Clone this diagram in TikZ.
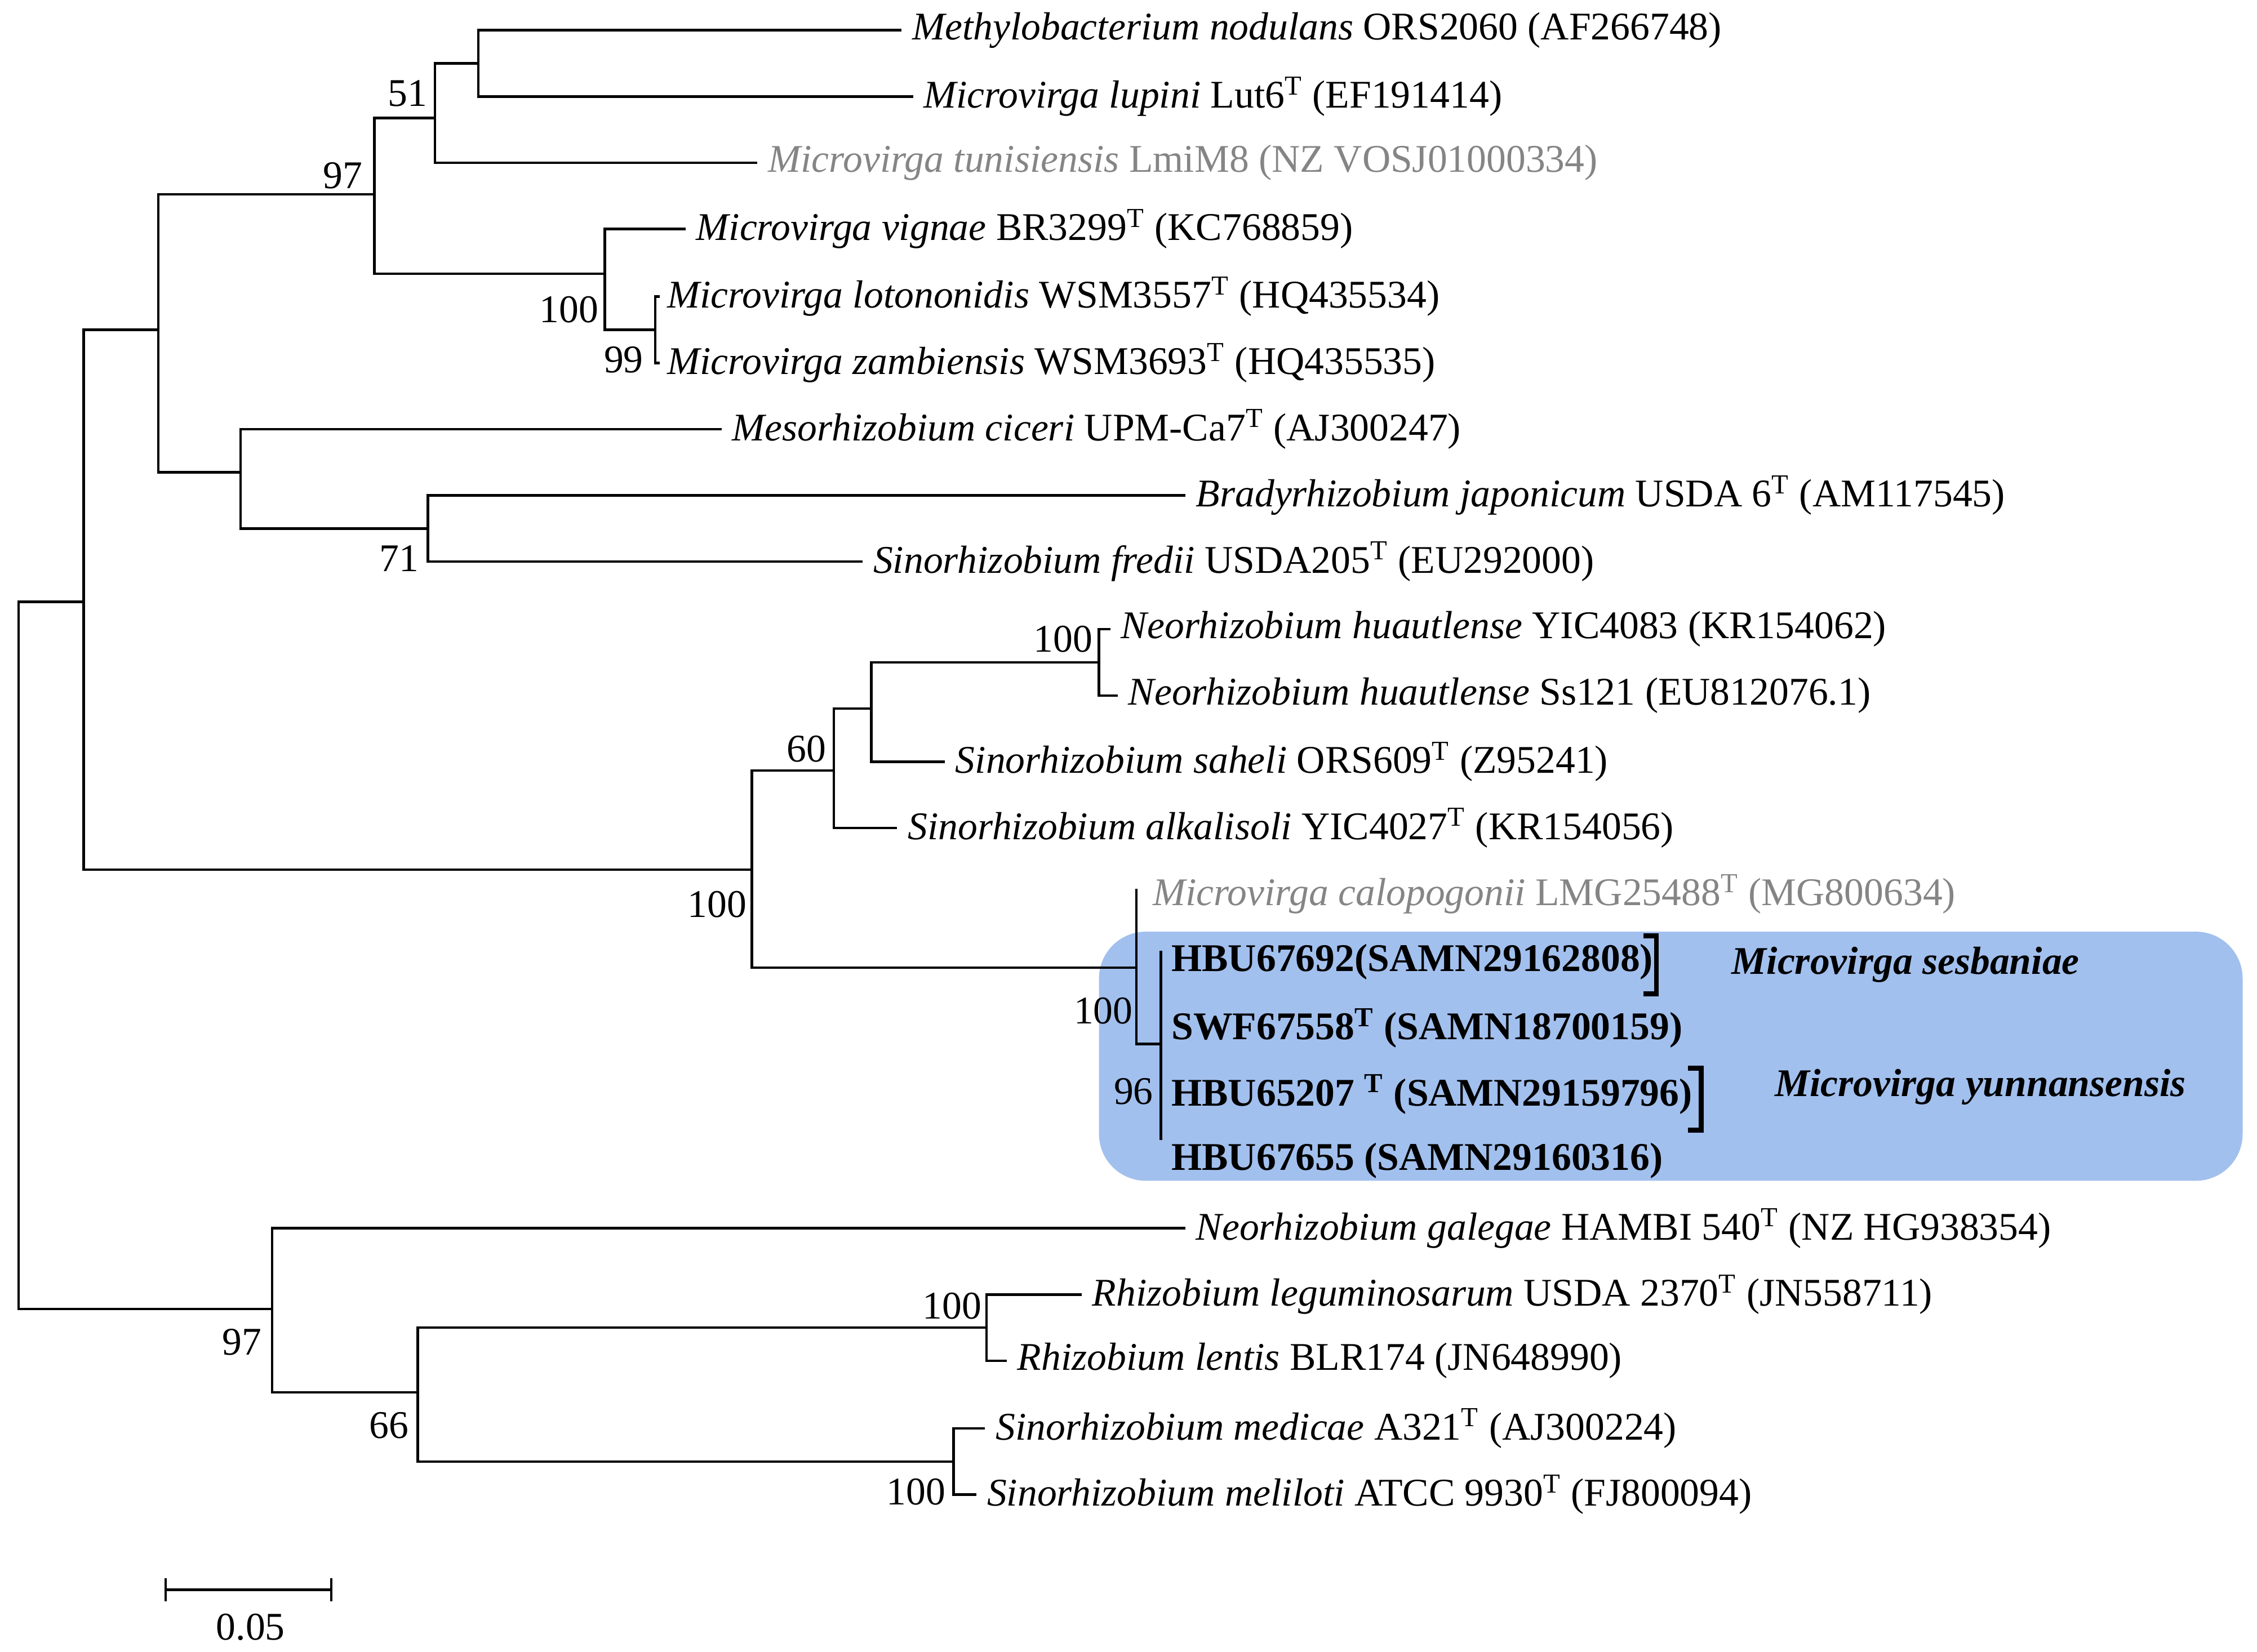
\documentclass[tikz,border=0pt]{standalone}
\usepackage{fontspec}
\setmainfont{Liberation Serif}
\definecolor{boxblue}{HTML}{A2C0EE}
\definecolor{graytxt}{HTML}{858585}
\newcommand{\Ts}{\textsuperscript{T}}
\begin{document}
\begin{tikzpicture}[x=0.02cm,y=-0.02cm,
  br/.style={line width=1pt,line cap=rect},
  lf/.style={anchor=west,font=\fontsize{15.5}{18}\selectfont,inner sep=0pt},
  bs/.style={font=\fontsize{15.5}{18}\selectfont,inner sep=0pt},
  gr/.style={text=graytxt}]
\useasboundingbox (0,0) rectangle (1567,1147);
\fill[boxblue,rounded corners=0.65cm] (763,647) rectangle (1557,820);
% internal nodes
\coordinate (root) at (13,663);
\coordinate (A) at (58,418); \coordinate (Q) at (189,909);
\coordinate (B) at (110,229); \coordinate (C) at (522,604);
\coordinate (D) at (260,135); \coordinate (E) at (167,328);
\coordinate (G) at (302,82); \coordinate (H) at (420,190);
\coordinate (I) at (332,44); \coordinate (J) at (455,229);
\coordinate (F) at (297,367);
\coordinate (K) at (579,535); \coordinate (L) at (789,672);
\coordinate (M) at (605,492); \coordinate (N) at (763,460);
\coordinate (P) at (806,725);
\coordinate (R) at (290,967); \coordinate (S) at (685,922); \coordinate (T) at (662,1015);
% leaf tips
\coordinate (t1) at (625,21); \coordinate (t2) at (633,67); \coordinate (t3) at (525,113);
\coordinate (t4) at (475,159); \coordinate (t5) at (457,206); \coordinate (t6) at (457,252);
\coordinate (t7) at (500,298); \coordinate (t8) at (822,344); \coordinate (t9) at (598,390);
\coordinate (t10) at (770,437); \coordinate (t11) at (775,483); \coordinate (t12) at (655,529);
\coordinate (t13) at (622,575); \coordinate (t14) at (789,618);
\coordinate (p1) at (806,661); \coordinate (p2) at (806,791);
\coordinate (t19) at (822,853); \coordinate (t20) at (750,899); \coordinate (t21) at (698,945);
\coordinate (t22) at (683,992); \coordinate (t23) at (677,1038);
% branches
\draw[br] (root) |- (A); \draw[br] (root) |- (Q);
\draw[br] (A) |- (B); \draw[br] (A) |- (C);
\draw[br] (B) |- (D); \draw[br] (B) |- (E);
\draw[br] (D) |- (G); \draw[br] (D) |- (H);
\draw[br] (G) |- (I); \draw[br] (G) |- (t3);
\draw[br] (I) |- (t1); \draw[br] (I) |- (t2);
\draw[br] (H) |- (t4); \draw[br] (H) |- (J);
\draw[br] (J) |- (t5); \draw[br] (J) |- (t6);
\draw[br] (E) |- (t7); \draw[br] (E) |- (F);
\draw[br] (F) |- (t8); \draw[br] (F) |- (t9);
\draw[br] (C) |- (K); \draw[br] (C) |- (L);
\draw[br] (K) |- (M); \draw[br] (K) |- (t13);
\draw[br] (M) |- (N); \draw[br] (M) |- (t12);
\draw[br] (N) |- (t10); \draw[br] (N) |- (t11);
\draw[br] (L) -- (t14); \draw[br] (L) |- (P);
\draw[br] (p1) -- (p2);
\draw[br] (Q) |- (t19); \draw[br] (Q) |- (R);
\draw[br] (R) |- (S); \draw[br] (R) |- (T);
\draw[br] (S) |- (t20); \draw[br] (S) |- (t21);
\draw[br] (T) |- (t22); \draw[br] (T) |- (t23);
% leaf labels
\node[lf] (l1) at ([xshift=8*0.02cm]t1) {\textit{Methylobacterium nodulans} ORS2060 (AF266748)};
\node[lf] (l2) at ([xshift=8*0.02cm]t2) {\textit{Microvirga lupini} Lut6\Ts{} (EF191414)};
\node[lf,gr] (l3) at ([xshift=8*0.02cm]t3) {\textit{Microvirga tunisiensis} LmiM8 (NZ VOSJ01000334)};
\node[lf] (l4) at ([xshift=8*0.02cm]t4) {\textit{Microvirga vignae} BR3299\Ts{} (KC768859)};
\node[lf] (l5) at ([xshift=6*0.02cm]t5) {\textit{Microvirga lotononidis} WSM3557\Ts{} (HQ435534)};
\node[lf] (l6) at ([xshift=6*0.02cm]t6) {\textit{Microvirga zambiensis} WSM3693\Ts{} (HQ435535)};
\node[lf] (l7) at ([xshift=8*0.02cm]t7) {\textit{Mesorhizobium ciceri} UPM-Ca7\Ts{} (AJ300247)};
\node[lf] (l8) at ([xshift=8*0.02cm]t8) {\textit{Bradyrhizobium japonicum} USDA 6\Ts{} (AM117545)};
\node[lf] (l9) at ([xshift=8*0.02cm]t9) {\textit{Sinorhizobium fredii} USDA205\Ts{} (EU292000)};
\node[lf] (l10) at ([xshift=8*0.02cm]t10) {\textit{Neorhizobium huautlense} YIC4083 (KR154062)};
\node[lf] (l11) at ([xshift=8*0.02cm]t11) {\textit{Neorhizobium huautlense} Ss121 (EU812076.1)};
\node[lf] (l12) at ([xshift=8*0.02cm]t12) {\textit{Sinorhizobium saheli} ORS609\Ts{} (Z95241)};
\node[lf] (l13) at ([xshift=8*0.02cm]t13) {\textit{Sinorhizobium alkalisoli} YIC4027\Ts{} (KR154056)};
\node[lf,gr] (l14) at (800,621) {\textit{Microvirga calopogonii} LMG25488\Ts{} (MG800634)};
\node[lf] (l15) at (813,668) {\textbf{HBU67692(SAMN29162808)}};
\node[lf] (l16) at (813,714) {\textbf{SWF67558\Ts{} (SAMN18700159)}};
\node[lf] (l17) at (813,760) {\textbf{HBU65207 \Ts{} (SAMN29159796)}};
\node[lf] (l18) at (813,806) {\textbf{HBU67655 (SAMN29160316)}};
\node[lf] (l19) at ([xshift=8*0.02cm]t19) {\textit{Neorhizobium galegae} HAMBI 540\Ts{} (NZ HG938354)};
\node[lf] (l20) at ([xshift=8*0.02cm]t20) {\textit{Rhizobium leguminosarum} USDA 2370\Ts{} (JN558711)};
\node[lf] (l21) at ([xshift=8*0.02cm]t21) {\textit{Rhizobium lentis} BLR174 (JN648990)};
\node[lf] (l22) at ([xshift=8*0.02cm]t22) {\textit{Sinorhizobium medicae} A321\Ts{} (AJ300224)};
\node[lf] (l23) at ([xshift=8*0.02cm]t23) {\textit{Sinorhizobium meliloti} ATCC 9930\Ts{} (FJ800094)};
% brackets and species names
\draw[line width=2pt] (1141,650) -- (1150,650) -- (1150,690) -- (1141,690);
\draw[line width=2pt] (1172,742) -- (1181,742) -- (1181,785) -- (1172,785);
\node[bs] (sp1) at (1323,670) {\textbf{\textit{Microvirga sesbaniae}}};
\node[bs] (sp2) at (1375,755) {\textbf{\textit{Microvirga yunnansensis}}};
% bootstrap values
\node[bs] (b1) at (283,65) {51};
\node[bs] (b2) at (238,122) {97};
\node[bs] (b3) at (395,215) {100};
\node[bs] (b4) at (433,250) {99};
\node[bs] (b5) at (277,388) {71};
\node[bs] (b6) at (738,444) {100};
\node[bs] (b7) at (560,520) {60};
\node[bs] (b8) at (498,628) {100};
\node[bs] (b9) at (766,702) {100};
\node[bs] (b10) at (787,758) {96};
\node[bs] (b11) at (168,932) {97};
\node[bs] (b12) at (270,990) {66};
\node[bs] (b13) at (661,907) {100};
\node[bs] (b14) at (636,1036) {100};
% scale bar
\coordinate (s1) at (115,1104); \coordinate (s2) at (230,1104);
\draw[br] (s1) -- (s2);
\draw[br] ([yshift=7*0.02cm]s1) -- ([yshift=-7*0.02cm]s1);
\draw[br] ([yshift=7*0.02cm]s2) -- ([yshift=-7*0.02cm]s2);
\node[bs] (sl) at (174,1130) {0.05};
\end{tikzpicture}
\end{document}
